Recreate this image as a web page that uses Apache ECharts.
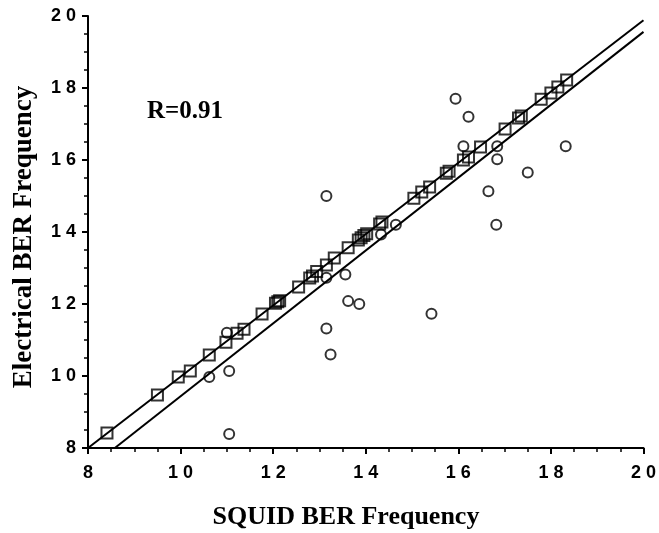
<!DOCTYPE html>
<html>
<head>
<meta charset="utf-8">
<script src="https://cdn.jsdelivr.net/npm/echarts@6/dist/echarts.min.js"></script>
<style>
    html, body { margin: 0; padding: 0; background: #fff; }
    #chart { width: 659px; height: 533px; }
</style>
</head>
<body>
<div id="chart"></div>
<script>
// raw measurements (open circles)
const circleX = [13.15, 15.94, 16.22, 16.11, 16.84, 18.32, 16.84, 17.5, 16.65, 16.82, 14.65, 14.33, 13.15, 13.56, 13.62, 13.86, 15.42, 13.15, 13.24, 11.0, 10.62, 11.05, 11.05];
const circleY = [15.0, 17.7, 17.2, 16.38, 16.38, 16.38, 16.02, 15.65, 15.13, 14.2, 14.2, 13.93, 12.73, 12.82, 12.08, 12.0, 11.73, 11.32, 10.6, 11.2, 9.97, 10.14, 8.39];

// values on the fitted line (open squares)
const squareX = [8.41, 9.5, 9.95, 10.21, 10.62, 10.98, 11.22, 11.37, 11.76, 12.05, 12.1, 12.14, 12.55, 12.79, 12.85, 12.94, 13.15, 13.32, 13.62, 13.84, 13.9, 13.96, 14.02, 14.3, 14.35, 15.04, 15.21, 15.38, 15.74, 15.8, 16.11, 16.22, 16.48, 17.01, 17.3, 17.36, 17.79, 18.0, 18.15, 18.34];
const squareY = [8.42, 9.47, 9.97, 10.14, 10.58, 10.94, 11.19, 11.3, 11.72, 12.02, 12.06, 12.09, 12.47, 12.72, 12.78, 12.9, 13.08, 13.28, 13.56, 13.78, 13.84, 13.9, 13.95, 14.22, 14.28, 14.94, 15.11, 15.25, 15.63, 15.69, 16.0, 16.08, 16.36, 16.86, 17.17, 17.22, 17.69, 17.86, 18.03, 18.22];

// line endpoints
const upperLineX = [8, 20];
const upperLineY = [8, 19.88];
const lowerLineX = [8.58, 20];
const lowerLineY = [8, 19.56];

const axisMin = 8;
const axisMax = 20;
const axisStep = 2;

const zip = (xs, ys) => xs.map((x, i) => [x, ys[i]]);
const spacedDigits = (v) => String(v).split('').join(' ');

const tickFont = { color: '#000', fontFamily: 'Liberation Sans', fontWeight: 'bold', fontSize: 18 };
const titleFont = 'bold 26px "Liberation Serif"';

function buildAxis(labelMargin) {
    return {
        type: 'value',
        min: axisMin,
        max: axisMax,
        interval: axisStep,
        axisLine: { show: true, onZero: false, lineStyle: { color: '#000', width: 2 } },
        axisTick: { show: true, inside: false, length: 6, lineStyle: { color: '#000', width: 2 } },
        minorTick: { show: true, splitNumber: 4, length: 4, lineStyle: { color: '#000', width: 1.5 } },
        splitLine: { show: false },
        minorSplitLine: { show: false },
        axisLabel: Object.assign({ margin: labelMargin, formatter: spacedDigits }, tickFont),
    };
}

const chart = echarts.init(document.getElementById('chart'));

chart.setOption({
    animation: false,
    backgroundColor: '#fff',
    grid: { left: 88, right: 13, top: 16, bottom: 85 },
    xAxis: buildAxis(16),
    yAxis: buildAxis(12),
    graphic: [
        {
            type: 'text',
            left: 147,
            top: 99,
            style: { text: 'R=0.91', font: 'bold 25px "Liberation Serif"', fill: '#000' },
        },
        {
            type: 'text',
            x: 346,
            y: 517,
            style: { text: 'SQUID BER Frequency', font: titleFont, fill: '#000', align: 'center', verticalAlign: 'middle' },
        },
        {
            type: 'text',
            x: 24,
            y: 237,
            rotation: Math.PI / 2,
            style: { text: 'Electrical BER Frequency', font: 'bold 27px "Liberation Serif"', fill: '#000', align: 'center', verticalAlign: 'middle' },
        },
    ],
    series: [
        {
            name: 'Measured',
            type: 'scatter',
            symbol: 'circle',
            symbolSize: 10,
            data: zip(circleX, circleY),
            itemStyle: { color: 'rgba(0,0,0,0)', borderColor: '#000', borderWidth: 2 },
            z: 3,
        },
        {
            name: 'Fitted',
            type: 'scatter',
            symbol: 'rect',
            symbolSize: 11,
            data: zip(squareX, squareY),
            itemStyle: { color: 'rgba(0,0,0,0)', borderColor: '#000', borderWidth: 2 },
            z: 3,
        },
        {
            name: 'Upper fit',
            type: 'line',
            data: zip(upperLineX, upperLineY),
            showSymbol: false,
            lineStyle: { color: '#000', width: 2 },
            z: 4,
        },
        {
            name: 'Lower fit',
            type: 'line',
            data: zip(lowerLineX, lowerLineY),
            showSymbol: false,
            lineStyle: { color: '#000', width: 2 },
            z: 4,
        },
    ],
});
</script>
</body>
</html>
